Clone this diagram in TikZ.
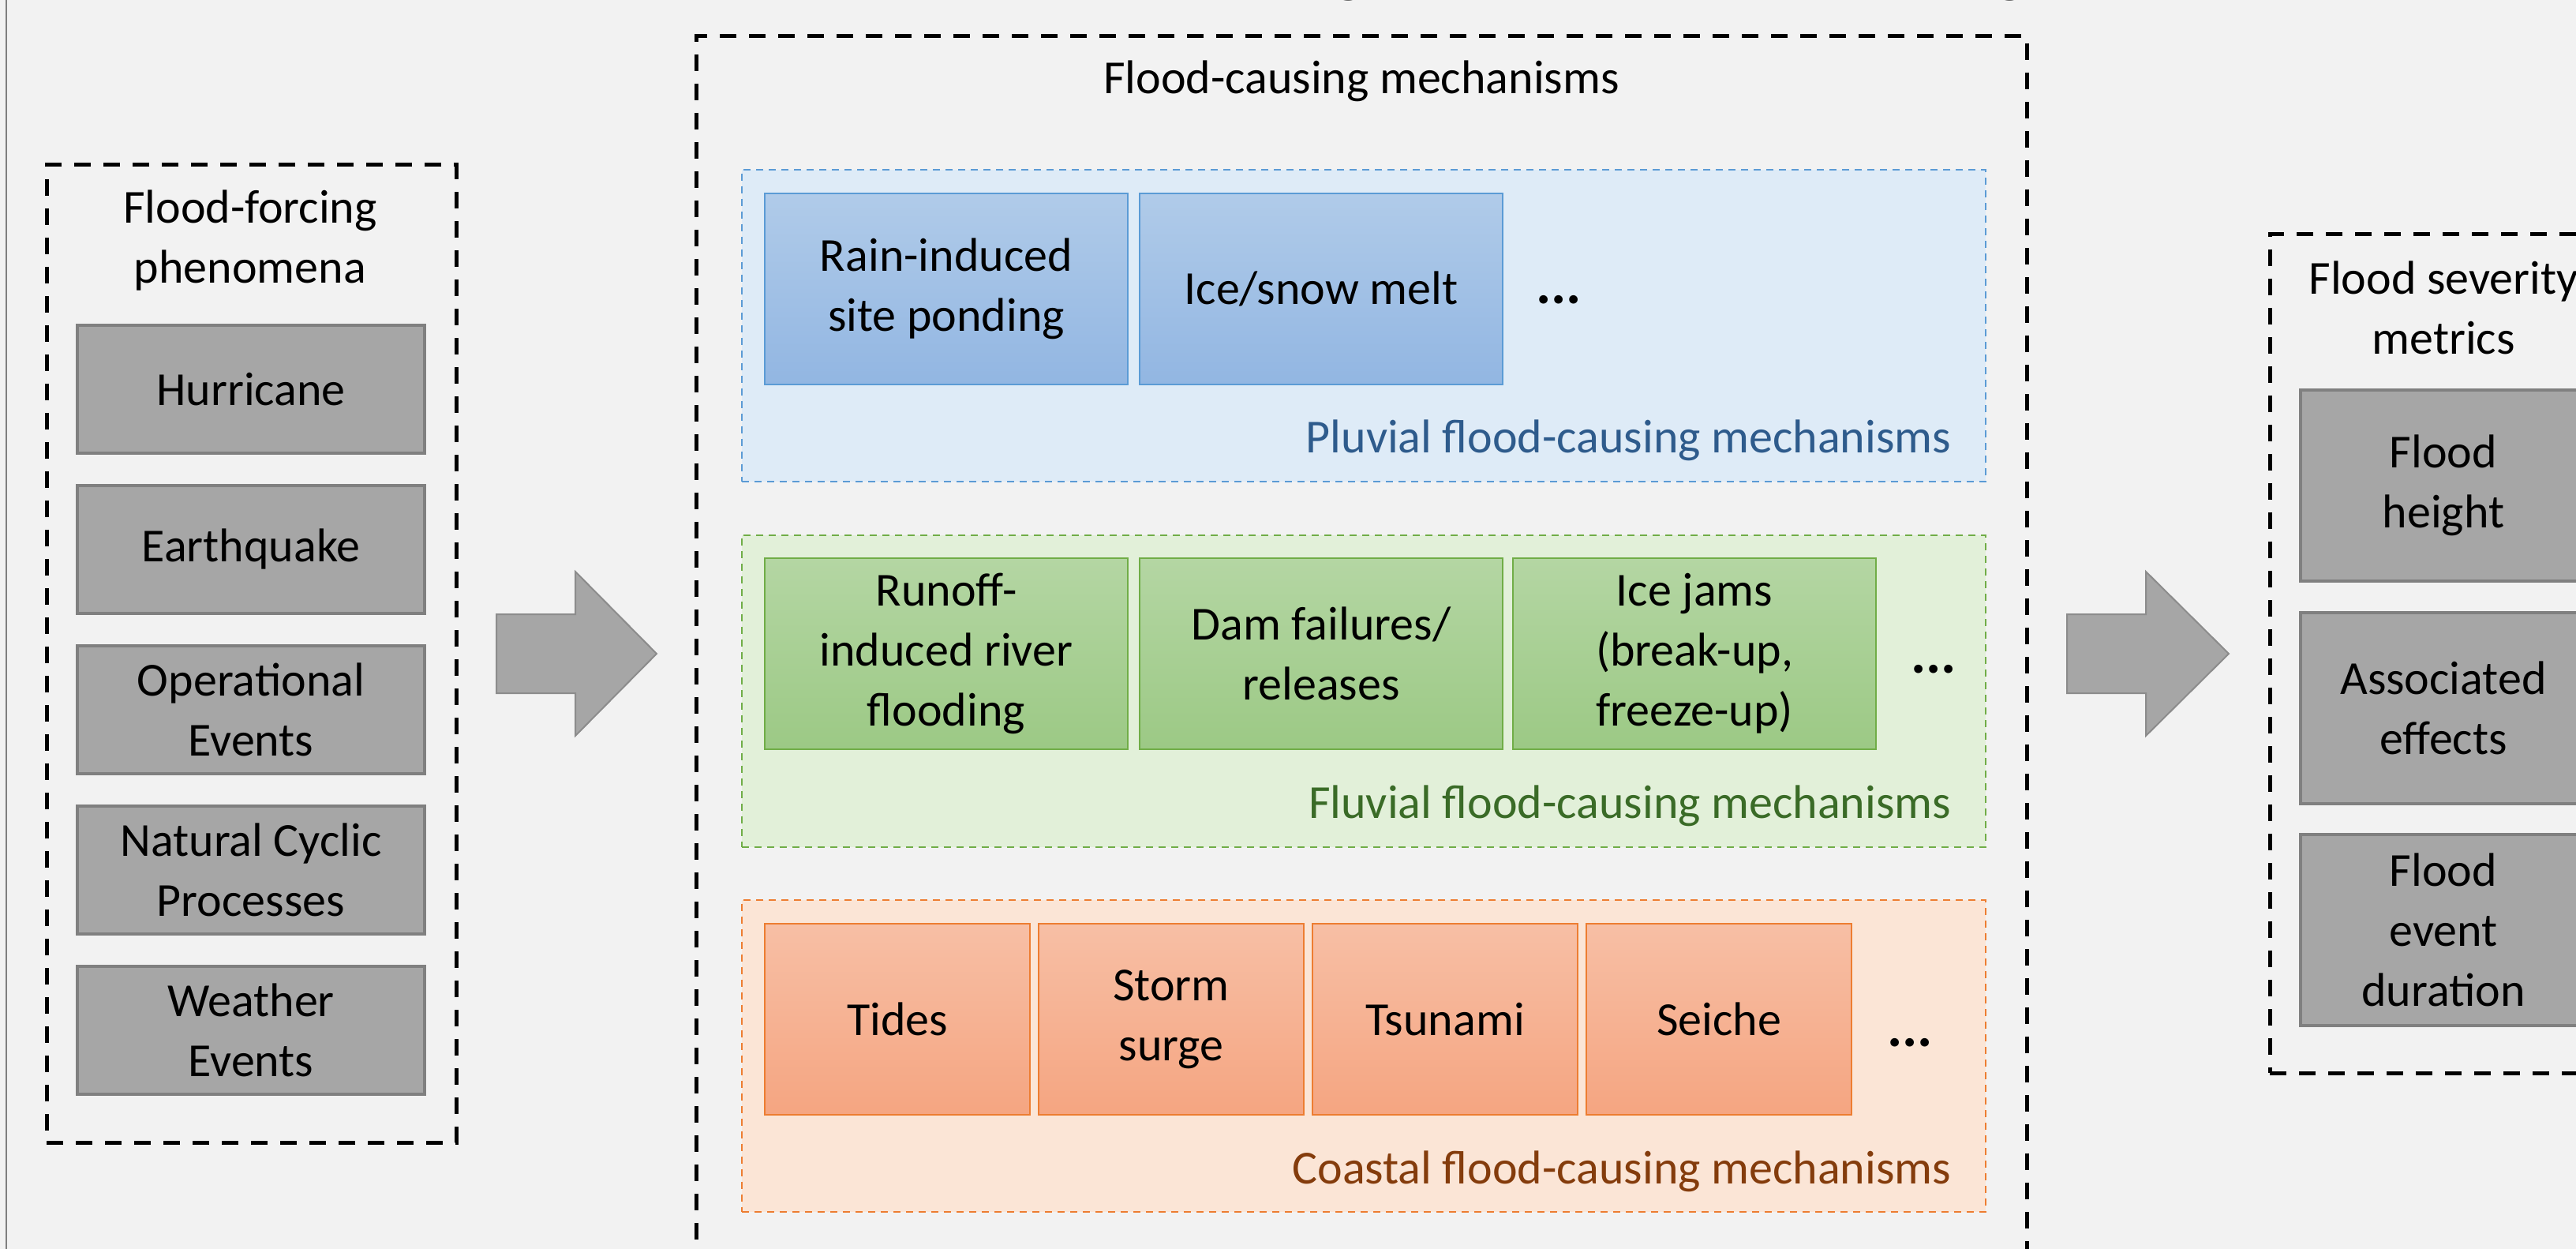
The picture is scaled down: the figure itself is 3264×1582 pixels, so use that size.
\documentclass[tikz,border=0pt]{standalone}
\usepackage{fontspec}
\setmainfont{Carlito}
\definecolor{bgc}{HTML}{F2F2F2}
\definecolor{framec}{HTML}{7F7F7F}
\definecolor{grayfill}{HTML}{A6A6A6}
\definecolor{grayline}{HTML}{808080}
\definecolor{arrline}{HTML}{8C8C8C}
\definecolor{bluebg}{HTML}{DEEBF7}
\definecolor{blueline}{HTML}{5B9BD5}
\definecolor{bluetop}{HTML}{B0CBE9}
\definecolor{bluebot}{HTML}{92B6E2}
\definecolor{bluetxt}{HTML}{2E5B8C}
\definecolor{greenbg}{HTML}{E2F0D9}
\definecolor{greenline}{HTML}{70AD47}
\definecolor{greentop}{HTML}{B4D6A3}
\definecolor{greenbot}{HTML}{9CC985}
\definecolor{greentxt}{HTML}{3A6B27}
\definecolor{orangebg}{HTML}{FBE5D6}
\definecolor{orangeline}{HTML}{ED7D31}
\definecolor{orangetop}{HTML}{F7BFA5}
\definecolor{orangebot}{HTML}{F5A581}
\definecolor{orangetxt}{HTML}{843C0C}
\tikzset{
  bigdash/.style={draw=black, line width=1.25pt, dash pattern=on 5.25pt off 4pt, inner sep=0pt},
  graybox/.style={draw=grayline, fill=grayfill, line width=1pt, inner sep=0pt, align=center,
    minimum width=110pt, minimum height=40.5pt},
  metricbox/.style={graybox, minimum width=90.5pt, minimum height=60.5pt},
  grp/.style={line width=0.5pt, dash pattern=on 2.2pt off 1.8pt, inner sep=0pt,
    minimum width=394pt, minimum height=98.75pt},
  mech/.style={line width=0.6pt, inner sep=0pt, align=center, minimum height=60.5pt},
  bluebox/.style={mech, draw=blueline, top color=bluetop, bottom color=bluebot, minimum width=115pt},
  greenbox/.style={mech, draw=greenline, top color=greentop, bottom color=greenbot, minimum width=115pt},
  orangebox/.style={mech, draw=orangeline, top color=orangetop, bottom color=orangebot, minimum width=84pt},
  dots/.style={anchor=base, font=\bfseries\fontsize{18pt}{22pt}\selectfont, inner sep=0pt},
  grplabel/.style={anchor=base east, inner sep=0pt},
  heading/.style={align=center, inner sep=0pt},
  blockarrow/.style={fill=grayfill, draw=arrline, line width=0.5pt, line join=miter}
}
\begin{document}
\begin{tikzpicture}[x=0.25pt, y=-0.25pt, font=\fontsize{15pt}{19pt}\selectfont]
\useasboundingbox (0,0) rectangle (3264,1582);
\fill[bgc] (0,0) rectangle (3264,1582);
\clip (0,0) rectangle (3264,1582);
\draw[framec, line width=0.5pt] (8,-10) -- (8,1600);

% title fragments (cut off at the top edge, as in the reference)
\begin{scope}
\clip (0,0) rectangle (3264,5);
\node[anchor=base west, inner sep=0pt, font=\bfseries\fontsize{20pt}{24pt}\selectfont] (ttlA) at (1690,-12) {gy};
\node[anchor=base, inner sep=0pt, font=\bfseries\fontsize{20pt}{24pt}\selectfont] (ttlB) at (2547,-12) {g};
\end{scope}

% ---- left: flood-forcing phenomena
\node[bigdash, minimum width=129.75pt, minimum height=309.5pt] (forcing) at (318.5,828) {};
\node[heading] (forcingT) at (317,305) {Flood-forcing\\phenomena};
\node[graybox] (hur) at (318,493) {Hurricane};
\node[graybox] (eq) at (318,696) {Earthquake};
\node[graybox] (ope) at (318,899) {Operational\\Events};
\node[graybox] (nat) at (318,1102) {Natural Cyclic\\Processes};
\node[graybox] (wea) at (318,1305) {Weather\\Events};

% arrow 1
\draw[blockarrow] (629,778) -- (729,778) -- (729,724) -- (832,828) -- (729,932) -- (729,878) -- (629,878) -- cycle;

% ---- middle: flood-causing mechanisms
\node[bigdash, minimum width=421.5pt, minimum height=400pt] (causing) at (1725,846) {};
\node[heading] (causingT) at (1725,103) {Flood-causing mechanisms};

\node[grp, draw=blueline, fill=bluebg] (pluv) at (1728,412.5) {};
\node[bluebox] (rain) at (1199,366) {Rain-induced\\site ponding};
\node[bluebox] (ice) at (1674,366) {Ice/snow melt};
\node[dots] (pdots) at (1975,385) {...};
\node[grplabel, text=bluetxt] (pluvL) at (2473,573) {Pluvial flood-causing mechanisms};

\node[grp, draw=greenline, fill=greenbg] (fluv) at (1728,875) {};
\node[greenbox] (runoff) at (1199,828) {Runoff-\\induced river\\flooding};
\node[greenbox] (dam) at (1674,828) {Dam failures/\\releases};
\node[greenbox] (jams) at (2147,828) {Ice jams\\(break-up,\\freeze-up)};
\node[dots] (fdots) at (2450,852) {...};
\node[grplabel, text=greentxt] (fluvL) at (2473,1036) {Fluvial flood-causing mechanisms};

\node[grp, draw=orangeline, fill=orangebg] (coast) at (1728,1337.5) {};
\node[orangebox] (tides) at (1137,1291) {Tides};
\node[orangebox] (storm) at (1484,1291) {Storm\\surge};
\node[orangebox] (tsu) at (1831,1291) {Tsunami};
\node[orangebox] (sei) at (2178,1291) {Seiche};
\node[dots] (cdots) at (2420,1325) {...};
\node[grplabel, text=orangetxt] (coastL) at (2473,1499) {Coastal flood-causing mechanisms};

% arrow 2
\draw[blockarrow] (2619,778) -- (2719,778) -- (2719,724) -- (2824,828) -- (2719,932) -- (2719,878) -- (2619,878) -- cycle;

% ---- right: flood severity metrics
\node[bigdash, minimum width=110pt, minimum height=265.5pt] (severity) at (3096,828) {};
\node[heading] (severityT) at (3096,390) {Flood severity\\metrics};
\node[metricbox] (height) at (3096,615) {Flood\\height};
\node[metricbox] (assoc) at (3096,897) {Associated\\effects};
\node[metricbox] (dur) at (3096,1177.5) {Flood\\event\\duration};
\end{tikzpicture}
\end{document}
